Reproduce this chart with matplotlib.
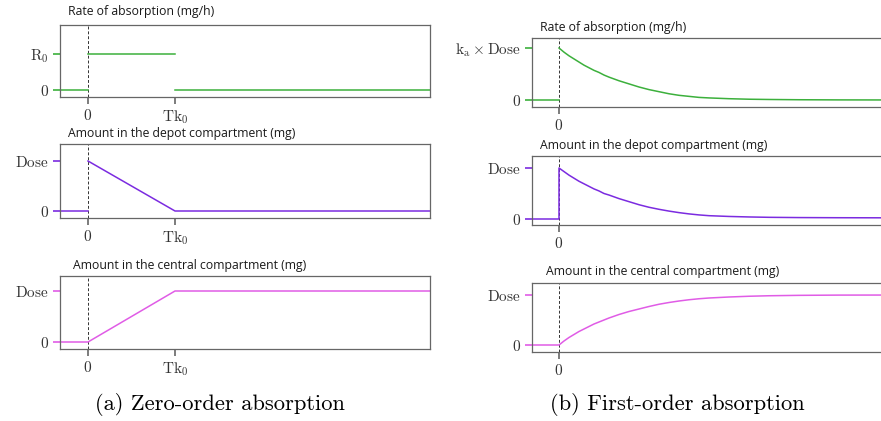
import numpy as np
import matplotlib
matplotlib.use("Agg")
import matplotlib.pyplot as plt

plt.rcParams['mathtext.fontset'] = 'cm'
plt.rcParams['font.family'] = ['cmr10', 'DejaVu Serif']
plt.rcParams['axes.unicode_minus'] = False

GREEN = '#3cb03c'
PURPLE = '#7b2be0'
PINK = '#e05ce6'
FRAME = '#666666'
NAN = np.nan

# zero-order absorption (time in units of Tk0, values relative to R0 / Dose)
zo_rate_t = [-0.4, 0.0, NAN, 0.0, 1.0, NAN, 1.0, 4.0]
zo_rate = [0, 0, NAN, 1, 1, NAN, 0, 0]
zo_depot_t = [-0.4, 0.0, NAN, 0.0, 1.0, 4.0]
zo_depot = [0, 0, NAN, 1, 0, 0]
zo_central_t = [-0.4, 0.0, 1.0, 4.0]
zo_central = [0, 0, 1, 1]

# first-order absorption
fo_t = [0.0, 0.05, 0.1, 0.15, 0.2, 0.25, 0.3, 0.35, 0.4, 0.45, 0.5, 0.6, 0.7,
        0.8, 0.9, 1.0, 1.1, 1.2, 1.3, 1.4, 1.5, 1.7, 1.9, 2.1, 2.4, 2.8, 3.6]
fo_rate = [1.0, 0.92, 0.85, 0.79, 0.73, 0.67, 0.62, 0.57, 0.53, 0.48, 0.44,
           0.37, 0.31, 0.25, 0.20, 0.16, 0.12, 0.09, 0.07, 0.05, 0.04, 0.025,
           0.015, 0.01, 0.005, 0.002, 0.0]
fo_depot = [1.0, 0.93, 0.86, 0.80, 0.74, 0.69, 0.64, 0.59, 0.55, 0.50, 0.47,
            0.40, 0.34, 0.28, 0.23, 0.19, 0.155, 0.125, 0.10, 0.08, 0.065,
            0.05, 0.04, 0.033, 0.028, 0.025, 0.022]
fo_central = [0.0, 0.08, 0.15, 0.21, 0.27, 0.32, 0.37, 0.42, 0.46, 0.50, 0.54,
              0.61, 0.67, 0.72, 0.77, 0.815, 0.85, 0.88, 0.905, 0.925, 0.94,
              0.96, 0.975, 0.985, 0.993, 0.998, 1.0]
fo_pre_t = [-0.4, 0.0]
fo_pre = [0, 0]

titles = ['Rate of absorption (mg/h)', 'Amount in the depot compartment (mg)',
          'Amount in the central compartment (mg)']

W, H = 881, 421
fig = plt.figure(figsize=(W / 100, H / 100), dpi=100)


def add_axes(left, top, bottom, width=370):
    return fig.add_axes([left / W, 1 - bottom / H, width / W, (bottom - top) / H])


def style(ax, col, xticks, xlabels, ylabels, xlim, ylim):
    ax.set_xlim(*xlim)
    ax.set_ylim(*ylim)
    for s in ax.spines.values():
        s.set_color(FRAME)
        s.set_linewidth(0.9)
    ax.axvline(0, color='#333333', lw=0.7, ls=(0, (3, 2)), zorder=1)
    ax.set_yticks([0, 1])
    ax.set_yticklabels(ylabels)
    ax.set_xticks(xticks)
    ax.set_xticklabels(xlabels)
    ax.tick_params(axis='y', length=5, width=1.2, color=col, pad=3,
                   labelsize=11, labelcolor='#333333')
    ax.tick_params(axis='x', length=5, width=1.2, color=FRAME, pad=3,
                   labelsize=11, labelcolor='#333333')
    ticks = ax.xaxis.get_major_ticks()
    if len(ticks) > 1:
        ticks[1].tick1line.set_color(col)


# left column: zero-order
left_boxes = [(25, 97), (144, 218), (276, 349)]
left_ylims = [(-7 / 36, 65 / 36), (-7 / 50, 67 / 50), (-7 / 51, 66 / 51)]
left_data = [(zo_rate_t, zo_rate, GREEN, r'$\mathrm{R}_0$'),
             (zo_depot_t, zo_depot, PURPLE, r'$\mathrm{Dose}$'),
             (zo_central_t, zo_central, PINK, r'$\mathrm{Dose}$')]
left_title_pos = [(68, 12), (68, 134), (73, 265)]
for (top, bot), ylim, (t, y, col, lab), (tx, ty), ttl in zip(
        left_boxes, left_ylims, left_data, left_title_pos, titles):
    ax = add_axes(60, top, bot)
    ax.plot(t, y, color=col, lw=1.1, zorder=2)
    style(ax, col, [0, 1], [r'$0$', r'$\mathrm{Tk}_0$'], [r'$0$', lab],
          (-28 / 87, 342 / 87), ylim)
    fig.text(tx / W, 1 - ty / H, ttl, family='Open Sans', size=8.8,
             color='#1a1a1a', va='center', ha='left')

# right column: first-order
right_boxes = [(38, 107), (156, 225), (283, 352)]
right_ylims = [(-7 / 52, 62 / 52), (-6 / 51, 63 / 51), (-7 / 50, 62 / 50)]
right_data = [(fo_rate, GREEN, r'$\mathrm{k}_\mathrm{a}\times\mathrm{Dose}$', False),
              (fo_depot, PURPLE, r'$\mathrm{Dose}$', True),
              (fo_central, PINK, r'$\mathrm{Dose}$', True)]
right_title_pos = [(540, 27), (540, 145), (546, 271)]
for (top, bot), ylim, (y, col, lab, joined), (tx, ty), ttl in zip(
        right_boxes, right_ylims, right_data, right_title_pos, titles):
    ax = add_axes(532, top, bot)
    if joined:
        ax.plot(fo_pre_t + fo_t, fo_pre + y, color=col, lw=1.1, zorder=2)
    else:
        ax.plot(fo_pre_t, fo_pre, color=col, lw=1.1, zorder=2)
        ax.plot(fo_t, y, color=col, lw=1.1, zorder=2)
    style(ax, col, [0], [r'$0$'], [r'$0$', lab], (-0.27, 3.43), ylim)
    fig.text(tx / W, 1 - ty / H, ttl, family='Open Sans', size=8.8,
             color='#1a1a1a', va='center', ha='left')

fig.text(220 / W, 1 - 405 / H, '(a) Zero-order absorption', ha='center',
         va='center', size=16.2)
fig.text(677 / W, 1 - 405 / H, '(b) First-order absorption', ha='center',
         va='center', size=16.2)

fig.savefig('out.png', dpi=100)
